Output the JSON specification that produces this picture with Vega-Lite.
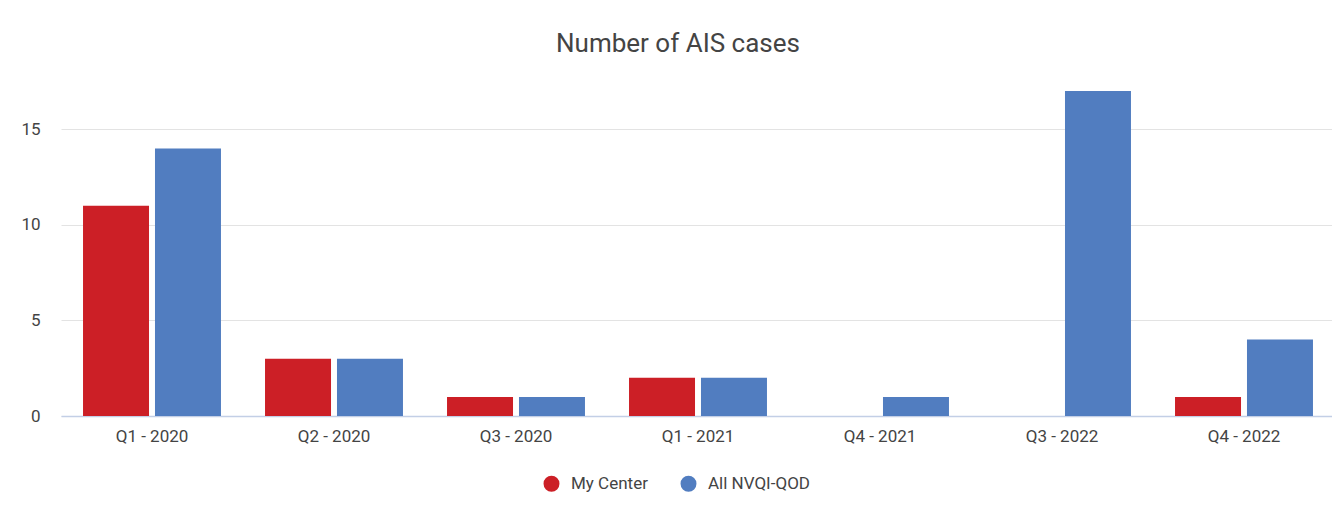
{
  "$schema": "https://vega.github.io/schema/vega-lite/v6.json",
  "autosize": {"type": "none"},
  "padding": {"left": 61, "top": 72, "right": 0, "bottom": 105},
  "width": 1274,
  "height": 344,
  "background": "white",
  "title": {
    "text": "Number of AIS cases",
    "font": "Roboto",
    "fontSize": 26,
    "fontWeight": "normal",
    "color": "#444444",
    "anchor": "middle",
    "dx": -20,
    "offset": 15
  },
  "data": {
    "values": [
      {"quarter": "Q1 - 2020", "series": "My Center", "cases": 11},
      {"quarter": "Q1 - 2020", "series": "All NVQI-QOD", "cases": 14},
      {"quarter": "Q2 - 2020", "series": "My Center", "cases": 3},
      {"quarter": "Q2 - 2020", "series": "All NVQI-QOD", "cases": 3},
      {"quarter": "Q3 - 2020", "series": "My Center", "cases": 1},
      {"quarter": "Q3 - 2020", "series": "All NVQI-QOD", "cases": 1},
      {"quarter": "Q1 - 2021", "series": "My Center", "cases": 2},
      {"quarter": "Q1 - 2021", "series": "All NVQI-QOD", "cases": 2},
      {"quarter": "Q4 - 2021", "series": "My Center", "cases": 0},
      {"quarter": "Q4 - 2021", "series": "All NVQI-QOD", "cases": 1},
      {"quarter": "Q3 - 2022", "series": "My Center", "cases": 0},
      {"quarter": "Q3 - 2022", "series": "All NVQI-QOD", "cases": 17},
      {"quarter": "Q4 - 2022", "series": "My Center", "cases": 1},
      {"quarter": "Q4 - 2022", "series": "All NVQI-QOD", "cases": 4}
    ]
  },
  "mark": {"type": "bar"},
  "encoding": {
    "x": {
      "field": "quarter",
      "type": "nominal",
      "sort": null,
      "scale": {"paddingInner": 0.242, "paddingOuter": 0.121},
      "axis": {
        "title": null,
        "labelAngle": 0,
        "labelFont": "Roboto",
        "labelFontSize": 17,
        "labelColor": "#444444",
        "labelPadding": 12,
        "ticks": false,
        "domainColor": "#c3cfe6",
        "domainWidth": 1.5,
        "grid": false
      }
    },
    "xOffset": {
      "field": "series",
      "type": "nominal",
      "sort": ["My Center", "All NVQI-QOD"],
      "scale": {"paddingInner": 0.083, "paddingOuter": 0}
    },
    "y": {
      "field": "cases",
      "type": "quantitative",
      "scale": {"domain": [0, 18], "nice": false},
      "axis": {
        "title": null,
        "values": [0, 5, 10, 15],
        "labelFont": "Roboto",
        "labelFontSize": 17,
        "labelColor": "#444444",
        "labelPadding": 21,
        "ticks": false,
        "domain": false,
        "gridColor": "#e3e3e3",
        "gridWidth": 1
      }
    },
    "color": {
      "field": "series",
      "type": "nominal",
      "sort": ["My Center", "All NVQI-QOD"],
      "scale": {"domain": ["My Center", "All NVQI-QOD"], "range": ["#cc1f26", "#517dc0"]},
      "legend": {
        "title": null,
        "orient": "none",
        "direction": "horizontal",
        "legendX": 482,
        "legendY": 403,
        "symbolType": "circle",
        "symbolSize": 254,
        "symbolStrokeWidth": 0,
        "labelFont": "Roboto",
        "labelFontSize": 17,
        "labelColor": "#444444",
        "labelOffset": 11,
        "columnPadding": 32
      }
    }
  },
  "config": {"view": {"stroke": null}}
}
